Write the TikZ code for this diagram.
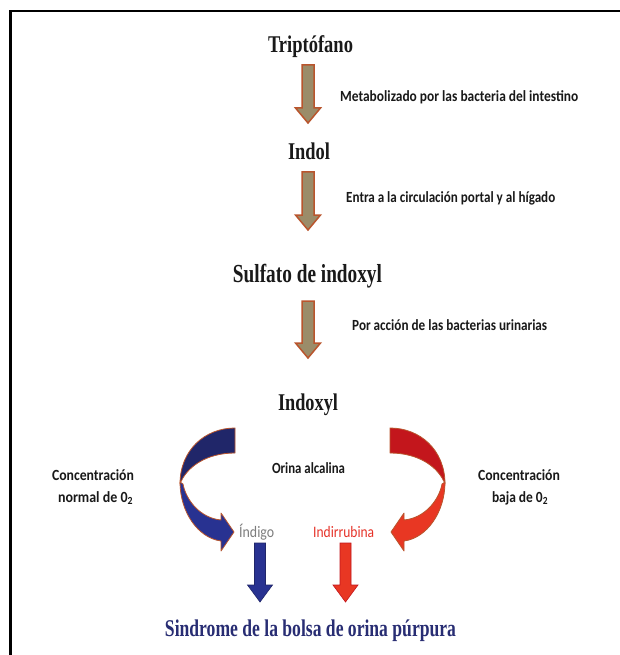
\documentclass[tikz,border=0pt]{standalone}
\usepackage{fontspec}
\setmainfont{Liberation Serif}
\setsansfont{Carlito}
\usepackage{graphicx}
\usetikzlibrary{calc}
\definecolor{brfill}{RGB}{155,140,105}
\definecolor{brline}{RGB}{185,85,45}
\definecolor{navyback}{RGB}{32,38,105}
\definecolor{bluefront}{RGB}{40,50,145}
\definecolor{redback}{RGB}{195,22,28}
\definecolor{redfront}{RGB}{232,55,35}
\definecolor{synd}{RGB}{40,45,115}
\definecolor{indgray}{RGB}{125,125,125}
\definecolor{indred}{RGB}{230,50,40}
\definecolor{txt}{RGB}{25,25,25}
\newcommand{\fitw}[2]{\resizebox{#1pt}{\height}{#2}}
\newcommand{\blockdown}[6]{%
  \path[#1] let \p1=(#2), \p2=(#3) in
  (\x1-#4pt,\y1) -- (\x1+#4pt,\y1) -- (\x1+#4pt,\y2+#6pt) -- (\x1+#5pt,\y2+#6pt)
  -- (\x2,\y2) -- (\x1-#5pt,\y2+#6pt) -- (\x1-#4pt,\y2+#6pt) -- cycle;}
\newcommand{\curvedarrow}[2]{%
  \path[cbk, fill=#1] (235,428) .. controls (205,428) and (180,450) .. (180,484)
     .. controls (186,468) and (205,453) .. (235,453) -- cycle;
  \path[cbk, fill=#2] (180,482) .. controls (180,512) and (198,538) .. (221,541)
     -- (221,551) -- (234,532) -- (221,513) -- (221,520)
     .. controls (200,518) and (186,500) .. (183,484) -- cycle;}
\tikzset{
  ttl/.style={font=\bfseries\fontsize{24}{24}\selectfont, text=txt, inner sep=0pt, anchor=base},
  lbl/.style={font=\sffamily\bfseries\fontsize{15.5}{18}\selectfont, text=txt, inner sep=0pt, anchor=base},
  lblr/.style={font=\sffamily\fontsize{16}{18}\selectfont, inner sep=0pt, anchor=base west},
  brarrow/.style={fill=brfill, draw=brline, line width=1.5pt, line join=miter},
  bluearrow/.style={fill=bluefront, draw=navyback, line width=0.6pt},
  redarrow/.style={fill=redfront, draw=redback, line width=0.6pt},
  cbk/.style={draw=brline, line width=0.8pt, line join=round},
  frame/.style={line width=2.6pt, draw=black, line join=miter}
}
\begin{document}
\begin{tikzpicture}[x=1pt, y=-1pt]
\useasboundingbox (0,0) rectangle (620,655);
\fill[white] (0,0) rectangle (620,655);
% frame
\draw[frame] (10.5,656) -- (10.5,11) -- (621,11);

% main chain
\node[ttl] (trip) at (310.5,53) {\fitw{85}{Triptófano}};
\node[ttl] (indol) at (309,160) {\fitw{42}{Indol}};
\node[ttl, font=\bfseries\fontsize{26}{26}\selectfont] (sulf) at (307.5,282) {\fitw{149}{Sulfato de indoxyl}};
\node[ttl] (indoxyl) at (308,410) {\fitw{60}{Indoxyl}};
\node[ttl, text=synd] (synd) at (310.5,636) {\fitw{291}{Sindrome de la bolsa de orina púrpura}};

% step labels
\node[lbl, anchor=base west] (l1) at (340,102) {\fitw{238}{Metabolizado por las bacteria del intestino}};
\node[lbl, anchor=base west] (l2) at (346,202) {\fitw{209}{Entra a la circulación portal y al hígado}};
\node[lbl, anchor=base west] (l3) at (352,330) {\fitw{195}{Por acción de las bacterias urinarias}};

% block arrows
\coordinate (a1s) at (308,65);  \coordinate (a1e) at (308,123);
\coordinate (a2s) at (308,172); \coordinate (a2e) at (308,230);
\coordinate (a3s) at (308,301); \coordinate (a3e) at (308,358);
\blockdown{brarrow}{a1s}{a1e}{6}{12.5}{15}
\blockdown{brarrow}{a2s}{a2e}{6}{12.5}{15}
\blockdown{brarrow}{a3s}{a3e}{6}{12.5}{15}

% curved arrows
\curvedarrow{navyback}{bluefront}
\begin{scope}[shift={(625,0)}, xscale=-1]
\curvedarrow{redback}{redfront}
\end{scope}

% middle labels
\node[lbl] (alc) at (308.5,473) {\fitw{73}{Orina alcalina}};
\node[lbl] (cl1) at (93,480) {\fitw{82}{Concentración}};
\node[lbl] (cl2) at (95.5,502) {\fitw{75}{normal de 0\textsubscript{2}}};
\node[lbl] (cr1) at (519,480) {\fitw{82}{Concentración}};
\node[lbl] (cr2) at (520,502) {\fitw{56}{baja de 0\textsubscript{2}}};
\node[lblr, text=indgray] (indigo) at (239,537) {\fitw{35}{Índigo}};
\node[lblr, text=indred] (indir) at (313,537) {\fitw{61}{Indirrubina}};

% down arrows to syndrome
\coordinate (b1s) at (260,543); \coordinate (b1e) at (260,602);
\coordinate (r1s) at (345.5,543); \coordinate (r1e) at (345.5,602);
\blockdown{bluearrow}{b1s}{b1e}{5.5}{12.5}{17}
\blockdown{redarrow}{r1s}{r1e}{5.5}{12.5}{17}
\end{tikzpicture}
\end{document}
